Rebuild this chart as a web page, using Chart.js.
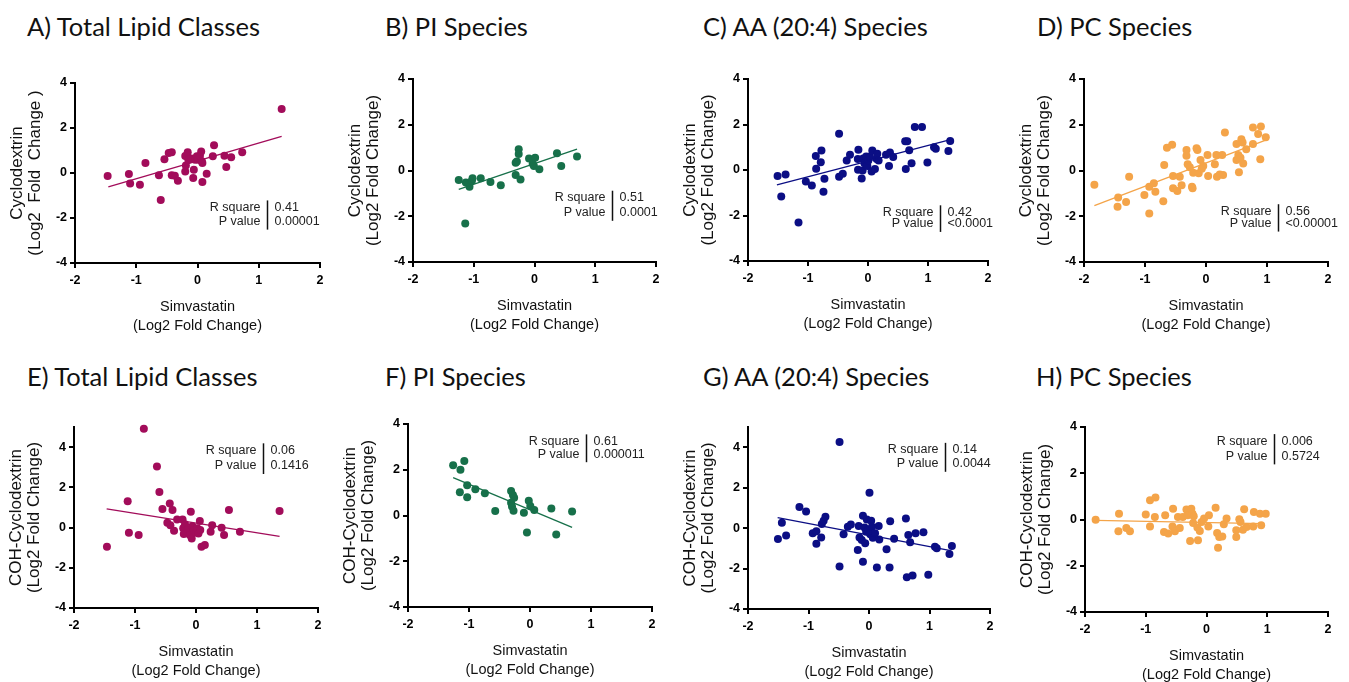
<!DOCTYPE html>
<html><head><meta charset="utf-8">
<script src="https://cdn.jsdelivr.net/npm/chart.js@4.4.1/dist/chart.umd.min.js"></script>
<style>
html,body{margin:0;padding:0;background:#fff;overflow:hidden;width:1349px;height:682px}
.t{position:absolute;font-family:Lato,'Open Sans',sans-serif;font-size:25.5px;line-height:25.5px;color:#111;white-space:nowrap}
canvas{position:absolute}
</style></head><body>
<script>
// ---------- tick labels ----------
const xTicks = [-2, -1, 0, 1, 2];
const yTicks = [-4, -2, 0, 2, 4];

// ---------- series values [x, y] ----------
const ptsA = [[1.374,2.84],[-1.467,-0.13],[-1.12,-0.04],[-1.10,-0.47],[-0.94,-0.52],[-0.85,0.44],[-0.63,-0.10],[-0.60,-1.20],[-0.54,0.61],[-0.47,0.89],[-0.42,0.92],[-0.42,-0.10],[-0.37,-0.12],[-0.32,-0.34],[-0.20,0.76],[-0.20,0.07],[-0.19,0.33],[-0.16,0.92],[-0.15,0.59],[-0.10,0.64],[-0.07,-0.22],[-0.06,0.15],[-0.04,0.59],[-0.01,0.74],[0.01,0.59],[0.04,0.77],[0.06,0.96],[0.07,0.52],[0.08,0.44],[0.08,-0.40],[0.15,-0.03],[0.25,0.74],[0.27,1.23],[0.44,0.77],[0.47,0.27],[0.55,0.70],[0.73,0.92]];
const ptsB = [[-1.247,-0.42],[-1.13,-0.53],[-1.14,-2.32],[-1.07,-0.71],[-1.03,-0.45],[-1.02,-0.34],[-0.885,-0.34],[-0.725,-0.50],[-0.555,-0.65],[-0.31,0.34],[-0.29,0.39],[-0.31,-0.20],[-0.26,0.93],[-0.26,0.72],[-0.23,-0.39],[-0.09,0.52],[-0.03,0.29],[0.01,0.56],[-0.01,0.20],[0.08,0.05],[0.37,0.75],[0.44,0.20],[0.70,0.61]];
const ptsC = [[-1.507,-0.26],[-1.374,-0.20],[-1.446,-1.17],[-1.158,-2.31],[-1.036,-0.51],[-0.936,-0.68],[-0.87,0.62],[-0.864,0.05],[-0.787,0.34],[-0.776,0.86],[-0.742,-0.96],[-0.726,-0.39],[-0.482,1.59],[-0.482,-0.30],[-0.42,-0.17],[-0.355,0.42],[-0.30,0.67],[-0.17,0.48],[-0.16,0.89],[-0.166,0.01],[-0.105,-0.37],[-0.09,-0.02],[-0.08,0.51],[-0.06,0.30],[-0.03,0.59],[-0.01,0.18],[0.006,0.42],[0.033,0.59],[0.06,-0.07],[0.072,0.86],[0.116,0.04],[0.144,0.48],[0.155,0.71],[0.177,0.42],[0.30,0.67],[0.35,0.18],[0.366,0.77],[0.42,0.57],[0.62,1.26],[0.63,0.04],[0.654,1.26],[0.687,0.87],[0.726,0.30],[0.78,1.89],[0.90,1.89],[0.99,0.33],[1.10,1.00],[1.13,0.93],[1.34,0.83],[1.37,1.27]];
const ptsD = [[-1.83,-0.62],[-1.45,-1.59],[-1.44,-1.18],[-1.31,-1.38],[-1.26,-0.27],[-1.01,-1.07],[-0.93,-0.71],[-0.93,-1.88],[-0.855,-0.56],[-0.83,-0.93],[-0.70,-1.34],[-0.685,0.24],[-0.64,1.00],[-0.555,1.13],[-0.54,-0.24],[-0.54,-0.78],[-0.47,-0.90],[-0.43,-0.27],[-0.40,-0.64],[-0.32,0.90],[-0.32,0.64],[-0.30,0.27],[-0.265,0.14],[-0.23,-0.71],[-0.22,-0.78],[-0.21,-0.10],[-0.155,0.97],[-0.14,0.90],[-0.12,-0.12],[-0.09,0.46],[-0.07,0.08],[-0.045,0.20],[0.025,0.68],[0.035,-0.24],[0.145,0.27],[0.17,0.68],[0.18,-0.27],[0.225,-0.17],[0.265,0.68],[0.28,-0.20],[0.31,1.66],[0.50,1.16],[0.50,0.46],[0.53,0.68],[0.54,-0.08],[0.565,0.56],[0.58,1.37],[0.60,1.22],[0.61,0.31],[0.66,0.93],[0.77,1.88],[0.77,1.16],[0.855,1.60],[0.89,0.49],[0.90,1.92],[0.98,1.45]];
const ptsE = [[-1.46,-0.95],[-1.12,1.31],[-1.10,-0.26],[-0.94,-0.37],[-0.855,4.91],[-0.64,3.04],[-0.60,1.77],[-0.55,0.92],[-0.47,0.24],[-0.43,1.20],[-0.42,0.12],[-0.385,0.87],[-0.36,-0.16],[-0.31,0.40],[-0.22,0.40],[-0.21,-0.04],[-0.20,-0.32],[-0.18,0.17],[-0.13,-0.09],[-0.10,-0.37],[-0.085,0.78],[-0.07,-0.54],[-0.06,0.07],[-0.035,-0.12],[0.0,-0.24],[0.02,-0.04],[0.04,-0.29],[0.063,0.32],[0.07,-0.12],[0.09,-0.95],[0.145,-0.87],[0.24,-0.21],[0.265,0.12],[0.42,-0.01],[0.46,-0.37],[0.54,0.87],[0.72,-0.21],[1.37,0.82]];
const ptsF = [[-1.26,2.20],[-1.14,2.00],[-1.077,2.38],[-1.15,1.02],[-1.03,1.32],[-1.03,0.80],[-0.896,1.15],[-0.74,0.97],[-0.57,0.20],[-0.31,1.07],[-0.28,0.90],[-0.26,0.78],[-0.31,0.56],[-0.295,0.39],[-0.27,0.21],[-0.10,0.12],[-0.05,-0.74],[-0.02,0.64],[0.005,0.42],[0.07,0.24],[0.35,0.31],[0.43,-0.83],[0.69,0.17]];
const ptsG = [[-1.505,-0.54],[-1.44,0.26],[-1.37,-0.36],[-1.15,1.05],[-1.04,0.82],[-0.93,-0.26],[-0.87,-0.15],[-0.87,-0.77],[-0.79,-0.46],[-0.78,0.20],[-0.75,0.36],[-0.72,0.56],[-0.487,4.26],[-0.487,-1.90],[-0.42,-0.30],[-0.35,0.07],[-0.30,0.18],[-0.185,-1.08],[-0.17,0.10],[-0.157,-0.46],[-0.12,-0.59],[-0.10,0.61],[-0.10,-1.66],[-0.074,0.03],[-0.063,-0.75],[-0.047,-0.18],[-0.036,0.43],[-0.008,-0.07],[0.008,1.75],[0.02,-0.30],[0.036,0.36],[0.05,0.07],[0.063,-0.48],[0.10,-0.26],[0.13,-1.95],[0.16,0.10],[0.17,-0.56],[0.29,-1.05],[0.34,-1.95],[0.35,0.34],[0.415,-0.52],[0.61,0.48],[0.625,-2.43],[0.65,-0.34],[0.68,-0.70],[0.72,-2.34],[0.77,-0.26],[0.90,-0.21],[0.98,-2.31],[1.09,-0.92],[1.12,-1.00],[1.33,-1.28],[1.37,-0.89]];
const ptsH = [[-1.825,-0.01],[-1.45,-0.51],[-1.44,0.25],[-1.32,-0.37],[-1.26,-0.51],[-1.00,0.22],[-0.93,0.83],[-0.93,-0.30],[-0.84,0.95],[-0.85,0.11],[-0.70,-0.54],[-0.68,0.18],[-0.63,-0.61],[-0.55,0.47],[-0.56,-0.30],[-0.52,-0.51],[-0.47,0.11],[-0.44,-0.37],[-0.39,0.11],[-0.33,0.43],[-0.31,0.18],[-0.27,-0.93],[-0.25,0.47],[-0.23,0.25],[-0.22,-0.15],[-0.21,0.14],[-0.15,-0.35],[-0.14,-0.90],[-0.11,-0.50],[-0.08,-0.11],[-0.04,0.04],[0.03,-0.30],[0.04,0.18],[0.15,0.51],[0.175,-0.58],[0.19,-1.22],[0.21,-0.76],[0.26,-0.73],[0.285,-0.21],[0.33,0.04],[0.49,-0.47],[0.49,-0.76],[0.54,0.01],[0.56,-0.11],[0.60,-0.44],[0.62,0.44],[0.66,-0.32],[0.77,-0.30],[0.78,0.32],[0.88,0.25],[0.90,-0.25],[0.975,0.25]];

// ---------- regression line end points ----------
const fitA = [[-1.456,-0.62],[1.374,1.63]];
const fitB = [[-1.247,-0.83],[0.70,0.93]];
const fitC = [[-1.518,-0.65],[1.374,1.33]];
const fitD = [[-1.83,-1.54],[0.99,1.34]];
const fitE = [[-1.465,0.93],[1.37,-0.44]];
const fitF = [[-1.26,1.66],[0.69,-0.52]];
const fitG = [[-1.51,0.52],[1.35,-1.11]];
const fitH = [[-1.825,-0.04],[0.93,-0.18]];

// ---------- statistics text ----------
const rSquare = ['0.41','0.51','0.42','0.56','0.06','0.61','0.14','0.006'];
const pValue  = ['0.00001','0.0001','<0.0001','<0.00001','0.1416','0.000011','0.0044','0.5724'];
const titles = ['A) Total Lipid Classes','B) PI Species','C) AA (20:4) Species','D) PC Species','E) Total Lipid Classes','F) PI Species','G) AA (20:4) Species','H) PC Species'];
const yLabels = ['Cyclodextrin','Cyclodextrin','Cyclodextrin','Cyclodextrin','COH-Cyclodextrin','COH-Cyclodextrin','COH-Cyclodextrin','COH-Cyclodextrin'];
const yMax = [4,4,4,4,5,4,5,4];

// ---------- layout / style (not data) ----------
const colors = ['#A20C5A','#17704A','#0B0E84','#F4A449','#A20C5A','#17704A','#0B0E84','#F4A449'];
const areas = [
  {l:75,t:83,r:320,b:263},{l:413,t:79,r:656,b:262},{l:748,t:79,r:988,b:261},{l:1084,t:79,r:1328,b:262},
  {l:74,t:427,r:318,b:608},{l:408,t:424,r:652,b:607},{l:748,t:427,r:990,b:609},{l:1085,t:427,r:1328,b:612}
];
const titlePos = [{x:27,y:14},{x:385,y:14},{x:703,y:14},{x:1037,y:14},{x:27,y:364},{x:385,y:364},{x:703,y:364},{x:1036,y:364}];
const annPos = [
  {x:1.13,y1:-1.53,y2:-2.16},{x:1.27,y1:-1.19,y2:-1.85},{x:1.197,y1:-1.86,y2:-2.37},{x:1.187,y1:-1.78,y2:-2.32},
  {x:1.10,y1:3.84,y2:3.06},{x:0.92,y1:3.24,y2:2.68},{x:1.257,y1:3.87,y2:3.18},{x:1.11,y1:3.39,y2:2.73}
];
const allPts = [ptsA,ptsB,ptsC,ptsD,ptsE,ptsF,ptsG,ptsH];
const allFits = [fitA,fitB,fitC,fitD,fitE,fitF,fitG,fitH];

const FONT = '"Liberation Sans", Arial, Helvetica, sans-serif';
const YW = 70, XH = 76, PT = 12, PR = 14;

const annPlugin = {
  id: 'ann',
  afterDatasetsDraw(chart) {
    const a = chart.options.plugins.ann;
    if (!a) return;
    const ctx = chart.ctx, xs = chart.scales.x, ys = chart.scales.y;
    const px = Math.round(xs.getPixelForValue(a.x)) + 0.5;
    const p1 = ys.getPixelForValue(a.y1), p2 = ys.getPixelForValue(a.y2);
    ctx.save();
    ctx.font = '12.5px ' + FONT;
    ctx.fillStyle = '#222';
    ctx.textBaseline = 'middle';
    ctx.textAlign = 'right';
    ctx.fillText('R square', px - 7, p1);
    ctx.fillText('P value', px - 7, p2);
    ctx.textAlign = 'left';
    ctx.fillText(a.r2, px + 7, p1);
    ctx.fillText(a.p, px + 7, p2);
    ctx.strokeStyle = '#111';
    ctx.lineWidth = 1.5;
    ctx.beginPath();
    ctx.moveTo(px, p1 - 7);
    ctx.lineTo(px, p2 + 8);
    ctx.stroke();
    ctx.restore();
  }
};

for (let i = 0; i < 8; i++) {
  const t = document.createElement('div');
  t.className = 't';
  t.textContent = titles[i];
  t.style.left = titlePos[i].x + 'px';
  t.style.top = titlePos[i].y + 'px';
  document.body.appendChild(t);

  const a = areas[i];
  const cv = document.createElement('canvas');
  const w = (a.r - a.l) + YW + PR, h = (a.b - a.t) + PT + XH;
  cv.width = w; cv.height = h;
  cv.style.left = (a.l - YW) + 'px';
  cv.style.top = (a.t - PT) + 'px';
  cv.style.width = w + 'px'; cv.style.height = h + 'px';
  document.body.appendChild(cv);

  const col = colors[i];
  new Chart(cv.getContext('2d'), {
    type: 'scatter',
    data: {
      datasets: [
        { type: 'line', data: allFits[i].map(([x, y]) => ({x, y})), borderColor: col, borderWidth: 1.3,
          pointRadius: 0, fill: false, tension: 0, clip: false },
        { type: 'scatter', data: allPts[i].map(([x, y]) => ({x, y})), backgroundColor: col, borderColor: col,
          borderWidth: 0, pointRadius: 4, clip: false }
      ]
    },
    options: {
      responsive: false, animation: false, events: [],
      layout: { padding: { left: 0, top: PT, right: PR, bottom: 0 } },
      plugins: {
        legend: { display: false }, tooltip: { enabled: false },
        ann: { x: annPos[i].x, y1: annPos[i].y1, y2: annPos[i].y2, r2: rSquare[i], p: pValue[i] }
      },
      scales: {
        x: {
          type: 'linear', min: -2, max: 2,
          afterBuildTicks: s => { s.ticks = xTicks.map(v => ({value: v})); },
          afterFit: s => { s.height = XH; },
          grid: { drawOnChartArea: false, drawTicks: true, tickLength: 5, color: '#000', lineWidth: 2 },
          border: { display: true, color: '#000', width: 2 },
          ticks: { color: '#000', font: { family: FONT, size: 12.5, weight: 'bold' }, padding: 5, maxRotation: 0, autoSkip: false },
          title: { display: true, text: ['Simvastatin', '(Log2 Fold Change)'], color: '#111',
                   font: { family: FONT, size: 14.5, lineHeight: 19 / 14.5 }, padding: { top: 0, bottom: 4 } }
        },
        y: {
          type: 'linear', min: -4, max: yMax[i],
          afterBuildTicks: s => { s.ticks = yTicks.map(v => ({value: v})); },
          afterFit: s => { s.width = YW; },
          grid: { drawOnChartArea: false, drawTicks: true, tickLength: 5, color: '#000', lineWidth: 2 },
          border: { display: true, color: '#000', width: 2 },
          ticks: { color: '#000', font: { family: FONT, size: 12.5, weight: 'bold' }, padding: 3, autoSkip: false },
          title: { display: true, text: [yLabels[i], i === 0 ? '(Log2  Fold  Change )' : '(Log2 Fold Change)'], color: '#111',
                   font: { family: FONT, size: 17, lineHeight: 18 / 17 }, padding: { top: 3, bottom: 0 } }
        }
      }
    },
    plugins: [annPlugin]
  });
}
</script>
</body></html>
